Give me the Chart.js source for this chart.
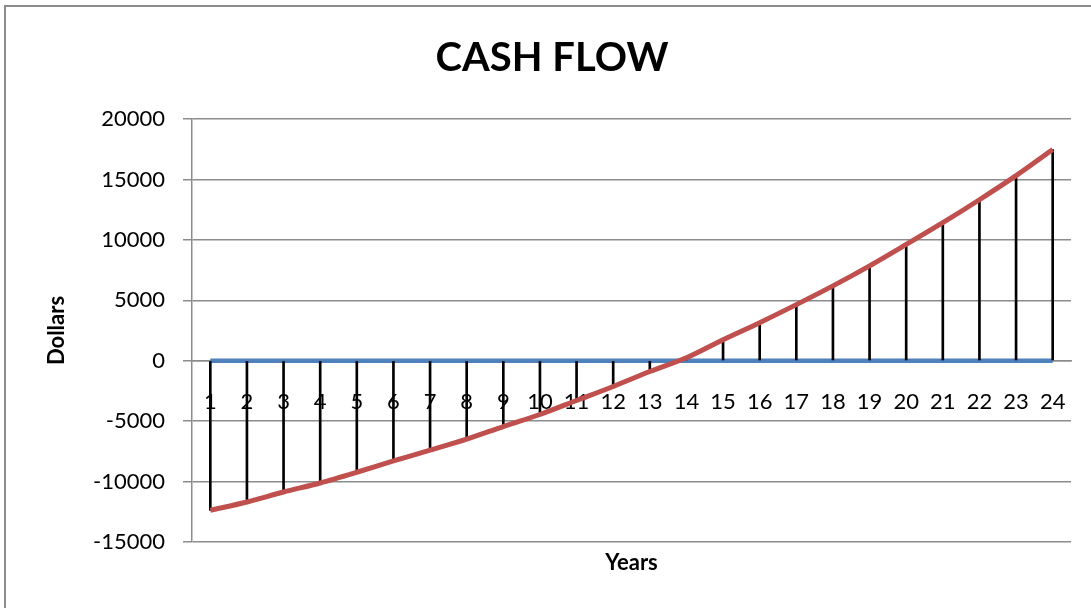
<!DOCTYPE html>
<html>
<head>
<meta charset="utf-8">
<script src="https://cdn.jsdelivr.net/npm/chart.js@4"></script>
<style>
  html, body { margin: 0; padding: 0; background: #fff; }
  #wrap { position: relative; width: 1091px; height: 608px; overflow: hidden; }
  #frame { position: absolute; left: 4px; top: 5px; width: 2000px; height: 2000px;
           border-left: 2px solid #8c8c8c; border-top: 2px solid #8c8c8c; pointer-events: none; }
  canvas { position: absolute; left: 0; top: 0; }
</style>
</head>
<body>
<div id="wrap">
  <canvas id="c" width="1091" height="608"></canvas>
  <div id="frame"></div>
</div>
<script>
const years = ['1','2','3','4','5','6','7','8','9','10','11','12','13','14','15','16','17','18','19','20','21','22','23','24'];
const cashFlow = [-12380, -11690, -10860, -10115, -9230, -8290, -7405, -6490, -5450, -4450, -3290, -2130,
                  -890, 250, 1740, 3150, 4640, 6190, 7850, 9620, 11420, 13320, 15310, 17470];
const baseline = [0,0,0,0,0,0,0,0,0,0,0,0,0,0,0,0,0,0,0,0,0,0,0,0];
const yMin = -15000, yMax = 20000, yStep = 5000;

const dropLines = cashFlow.map((v, i) => [baseline[i], v]);

const yearsTitle = {
  id: 'yearsTitle',
  afterDraw(chart) {
    const ctx = chart.ctx, a = chart.chartArea;
    ctx.save();
    ctx.font = 'bold 22px Lato';
    ctx.fillStyle = '#000';
    ctx.textAlign = 'center';
    ctx.textBaseline = 'middle';
    ctx.fillText('Years', (a.left + a.right) / 2, a.bottom + 21);
    ctx.restore();
  }
};

new Chart(document.getElementById('c'), {
  type: 'line',
  data: {
    labels: years,
    datasets: [
      { type: 'line', label: 'Cash flow', data: cashFlow, borderColor: '#C0504D', borderWidth: 5,
        pointRadius: 0, tension: 0.3, fill: false, order: 0 },
      { type: 'bar', label: 'Drop lines', data: dropLines, backgroundColor: '#000', borderWidth: 0,
        barThickness: 2, order: 1 },
      { type: 'line', label: 'Zero', data: baseline, borderColor: '#4F81BD', borderWidth: 4.5,
        pointRadius: 0, tension: 0, fill: false, order: 2 }
    ]
  },
  options: {
    responsive: false,
    animation: false,
    layout: { padding: { left: 33, right: 20, top: 0, bottom: 66 } },
    plugins: {
      legend: { display: false },
      tooltip: { enabled: false },
      title: { display: true, text: 'CASH FLOW', color: '#000',
               font: { family: 'Lato', size: 40, weight: 'bold' },
               padding: { top: 34, bottom: 37 } }
    },
    scales: {
      x: {
        type: 'category',
        offset: true,
        position: { y: 0 },
        grid: { display: false },
        border: { display: true, color: '#8c8c8c', width: 1.5 },
        ticks: { color: '#000', font: { family: 'Lato', size: 22 }, padding: 20, maxRotation: 0, autoSkip: false }
      },
      y: {
        min: yMin, max: yMax,
        afterFit(scale) { scale.width = 159; },
        ticks: { stepSize: yStep, color: '#000', font: { family: 'Lato', size: 22 }, padding: 18,
                 callback: (v) => String(v) },
        grid: { color: '#8c8c8c', lineWidth: 1.5, tickLength: 9 },
        border: { color: '#8c8c8c', width: 1.5 },
        title: { display: true, text: 'Dollars', color: '#000',
                 font: { family: 'Lato', size: 22, weight: 'bold' }, padding: { top: 11, bottom: 0 } }
      }
    }
  },
  plugins: [yearsTitle]
});
</script>
</body>
</html>
